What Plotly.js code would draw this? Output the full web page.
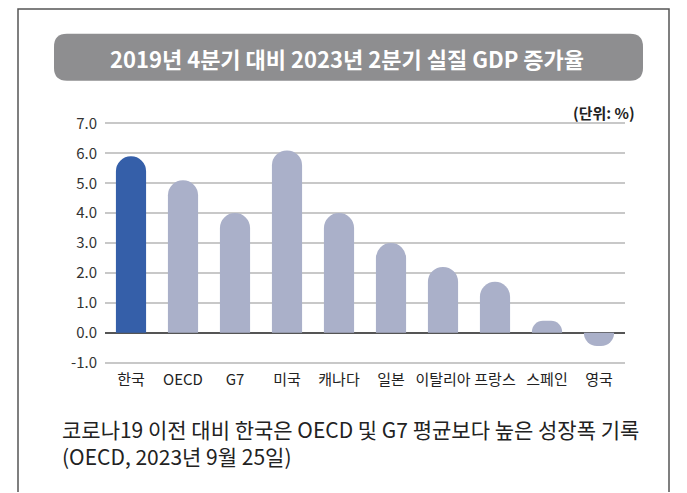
<!DOCTYPE html>
<html>
<head>
<meta charset="utf-8">
<script src="https://cdn.plot.ly/plotly-3.0.1.min.js"></script>
<style>
  html, body { margin: 0; padding: 0; background: #fff; }
  #chart { width: 687px; height: 493px; }
</style>
</head>
<body>
<div id="chart"></div>
<script>
// 국가별 실질 GDP 증가율 (2019년 4분기 대비 2023년 2분기, %)
const countries = ['한국', 'OECD', 'G7', '미국', '캐나다', '일본', '이탈리아', '프랑스', '스페인', '영국'];
const growth = [5.9, 5.1, 4.0, 6.1, 4.0, 3.0, 2.2, 1.7, 0.4, -0.45];
const yTicks = [-1, 0, 1, 2, 3, 4, 5, 6, 7];
const yTickText = ['-1.0', '0.0', '1.0', '2.0', '3.0', '4.0', '5.0', '6.0', '7.0'];

const font = '"Noto Sans CJK KR", "Noto Sans", sans-serif';
const barColors = countries.map(c => c === '한국' ? '#355fa9' : '#aab0c9');

// 픽셀 -> paper 좌표 (플롯 영역 x 105~625, y 121.5~364.5)
const px = x => (x - 105) / 520;
const py = y => (364.5 - y) / 243;

// 제목 배경 둥근 사각형
function roundRect(x0, y0, x1, y1, r) {
    const rx = r / 520, ry = r / 243;
    const a = px(x0), b = px(x1), t = py(y0), u = py(y1);
    return `M${a + rx},${t} L${b - rx},${t} Q${b},${t} ${b},${t - ry} ` +
        `L${b},${u + ry} Q${b},${u} ${b - rx},${u} L${a + rx},${u} ` +
        `Q${a},${u} ${a},${u + ry} L${a},${t - ry} Q${a},${t} ${a + rx},${t} Z`;
}

const data = [{
    x: countries,
    y: growth,
    type: 'bar',
    marker: { color: barColors, cornerradius: 15 },
    hoverinfo: 'x+y',
}];

const layout = {
    width: 687,
    height: 493,
    margin: { l: 105, r: 62, t: 121.5, b: 128.5 },
    paper_bgcolor: '#ffffff',
    plot_bgcolor: '#ffffff',
    showlegend: false,
    bargap: 0.42,
    font: { family: font, color: '#333333' },
    xaxis: {
        type: 'category',
        tickfont: { size: 15, color: '#222222' },
        showgrid: false,
        ticks: '',
        showline: false,
        ticklabelstandoff: 5,
    },
    yaxis: {
        range: [-1.05, 7.05],
        tickvals: yTicks,
        ticktext: yTickText,
        tickfont: { size: 15, color: '#333333' },
        showgrid: true,
        gridcolor: '#c8c8c8',
        gridwidth: 1.5,
        zeroline: true,
        zerolinecolor: '#555555',
        zerolinewidth: 2,
        ticks: '',
        showline: false,
        ticklabelstandoff: 7,
    },
    shapes: [
        {
            type: 'path', xref: 'paper', yref: 'paper',
            path: `M${px(18)},${py(493)} L${px(18)},${py(8)} L${px(669)},${py(8)} L${px(669)},${py(493)}`,
            line: { color: '#555555', width: 1.5 },
        },
        {
            type: 'path', xref: 'paper', yref: 'paper',
            path: roundRect(54, 33, 643, 80, 13),
            fillcolor: '#8e8e90',
            line: { width: 0 },
        },
    ],
    annotations: [
        {
            text: '<b>2019년 4분기 대비 2023년 2분기 실질 GDP 증가율</b>',
            xref: 'paper', yref: 'paper', x: px(347), y: py(57),
            xanchor: 'center', yanchor: 'middle', showarrow: false,
            font: { size: 22, color: '#ffffff', family: font },
        },
        {
            text: '<b>(단위: %)</b>',
            xref: 'paper', yref: 'paper', x: px(637), y: py(112),
            xanchor: 'right', yanchor: 'middle', showarrow: false,
            font: { size: 15, color: '#222222', family: font },
        },
        {
            text: '코로나19 이전 대비 한국은 OECD 및 G7 평균보다 높은 성장폭 기록<br>(OECD, 2023년 9월 25일)',
            xref: 'paper', yref: 'paper', x: px(60), y: py(413),
            xanchor: 'left', yanchor: 'top', align: 'left', showarrow: false,
            font: { size: 21, color: '#222222', family: font },
        },
    ],
};

const config = { displayModeBar: false, responsive: false };

Plotly.newPlot('chart', data, layout, config);
</script>
</body>
</html>
